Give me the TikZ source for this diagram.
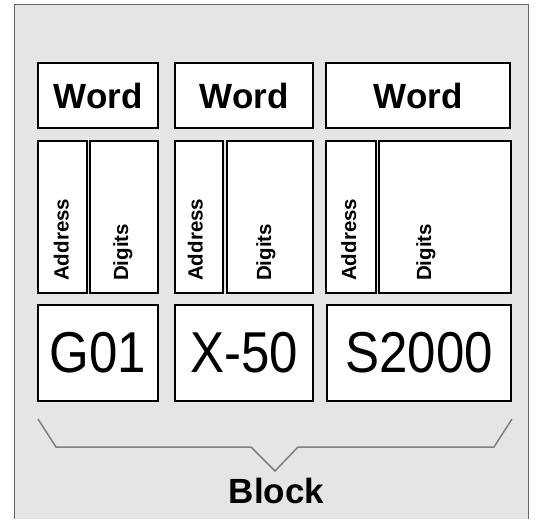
\documentclass[tikz,border=0pt]{standalone}
\usepackage{fontspec}
\setmainfont{Liberation Sans}

\tikzset{
  cell/.style={draw=black, fill=white, line width=1.2pt, inner sep=0pt},
  wordtxt/.style={font=\fontsize{35}{35}\selectfont\bfseries},
  valuetxt/.style={font=\fontsize{51}{51}\selectfont},
  fieldtxt/.style={font=\fontsize{20.5}{20.5}\selectfont\bfseries, rotate=90, anchor=base west, inner sep=0pt},
}
% values are printed a little taller than wide
\newcommand{\tallval}[1]{\scalebox{1}[1.13]{#1}}

\begin{document}
\begin{tikzpicture}[x=1pt, y=-1pt]
  \useasboundingbox (0,0) rectangle (537,519);

  % Block panel (open at the bottom)
  \fill[gray!20] (14,5) rectangle (528,519);
  \draw[black!60, line width=1pt] (14,519) -- (14,5) -- (528,5) -- (528,519);

  % Words
  \node[cell, wordtxt, minimum width=120pt, minimum height=65pt] (w1) at (98,95.5) {Word};
  \node[cell, wordtxt, minimum width=138pt, minimum height=65pt] (w2) at (244,95.5) {Word};
  \node[cell, wordtxt, minimum width=184pt, minimum height=65pt] (w3) at (418,95.5) {Word};

  % Address / digits fields
  \node[cell, minimum width=49pt, minimum height=152pt] (a1) at (62.5,217) {};
  \node[cell, minimum width=68pt, minimum height=152pt] (d1) at (124,217) {};
  \node[cell, minimum width=48pt, minimum height=152pt] (a2) at (199,217) {};
  \node[cell, minimum width=86pt, minimum height=152pt] (d2) at (270,217) {};
  \node[cell, minimum width=50pt, minimum height=152pt] (a3) at (351,217) {};
  \node[cell, minimum width=132pt, minimum height=152pt] (d3) at (445,217) {};

  \node[fieldtxt] (la1) at (68.5,281) {Address};
  \node[fieldtxt] (ld1) at (128,281) {Digits};
  \node[fieldtxt] (la2) at (202.5,281) {Address};
  \node[fieldtxt] (ld2) at (271,281) {Digits};
  \node[fieldtxt] (la3) at (356,281) {Address};
  \node[fieldtxt] (ld3) at (431,281) {Digits};

  % Values
  \node[cell, valuetxt, minimum width=120pt, minimum height=96pt] (v1) at (98,353) {\tallval{G01}};
  \node[cell, valuetxt, minimum width=138pt, minimum height=96pt] (v2) at (244,353) {\tallval{X-50}};
  \node[cell, valuetxt, minimum width=184pt, minimum height=96pt] (v3) at (419,353) {\tallval{S2000}};

  % Brace under the values
  \draw[gray, line width=1.5pt] (38,419) -- (56,447) -- (251,447) -- (275,471)
    -- (298,447) -- (494,447) -- (512,419);

  % Label
  \node[font=\fontsize{35}{35}\selectfont\bfseries, anchor=base] (blk) at (276.5,503) {Block};
\end{tikzpicture}
\end{document}
